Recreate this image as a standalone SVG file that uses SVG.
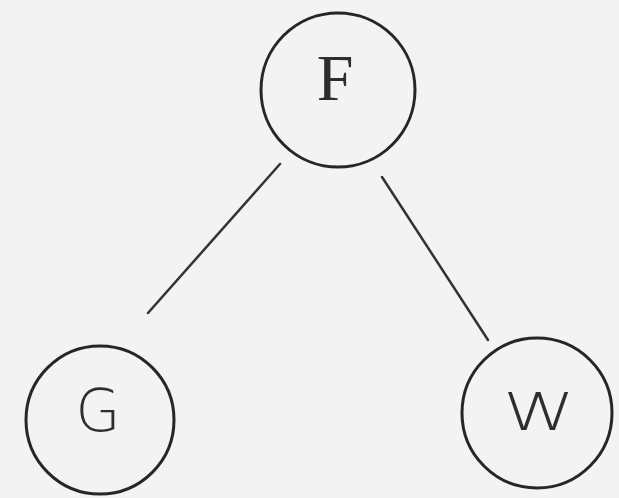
<svg xmlns="http://www.w3.org/2000/svg" width="619" height="498" viewBox="0 0 619 498">
<style>
.node circle{fill:none;stroke:#262626;stroke-width:3}
.node text{font-family:"DejaVu Sans","Liberation Sans",sans-serif;fill:#2e2e2e;text-anchor:middle;font-weight:300}
.edge line{stroke:#333;stroke-width:2.5;stroke-linecap:round}
</style>
<rect width="619" height="498" fill="#f3f3f3"/>
<g id="edges" class="edge">
<line x1="280" y1="164" x2="148" y2="313"/>
<line x1="382" y1="177" x2="488" y2="340"/>
</g>
<g id="node-F" class="node">
<circle cx="338" cy="90" r="77"/>
<text x="335" y="100" style="font-family:'Liberation Serif',serif;font-size:66px">F</text>
</g>
<g id="node-G" class="node">
<circle cx="100" cy="420" r="74"/>
<text x="98" y="431" style="font-size:58px">G</text>
</g>
<g id="node-W" class="node">
<circle cx="537" cy="413" r="75"/>
<text transform="translate(539 430) scale(1.4 1)" style="font-size:52px">W</text>
</g>
</svg>
